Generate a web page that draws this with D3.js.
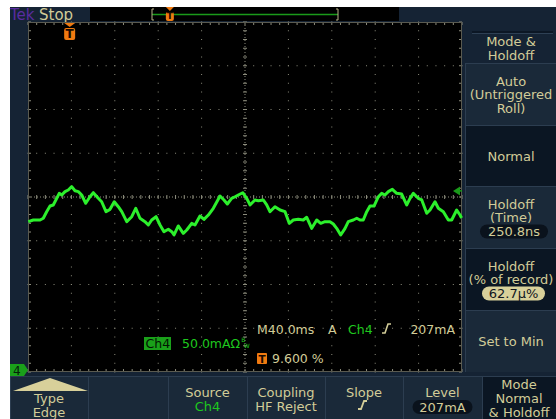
<!DOCTYPE html>
<html>
<head>
<meta charset="utf-8">
<script src="https://cdn.jsdelivr.net/npm/d3@7"></script>
<style>
  html, body { margin: 0; padding: 0; background: #ffffff; }
  svg { display: block; }
  text { font-family: "DejaVu Sans", Verdana, sans-serif; }
</style>
</head>
<body>
<svg id="scope" width="556" height="419"></svg>
<script>
// Acquisition: Ch4 current, 40 ms/div, 50 mA/div, record 0..400 ms
const timeMs = [0.3, 4.9, 11.1, 14.1, 17.2, 20.3, 23.3, 26.5, 28.8, 31.1, 34.1, 37.1, 40.3, 43.3, 46.4, 49.5,
  53.2, 57.1, 60.2, 64.8, 67.9, 71.9, 75.6, 79.5, 83.2, 86.4, 91.0, 95.6, 99.3, 103.2, 107.8, 110.9,
  114.0, 118.0, 121.7, 125.3, 129.3, 132.5, 134.6, 138.5, 143.1, 146.3, 150.9, 153.9, 158.5, 162.2,
  166.2, 170.8, 177.0, 180.6, 183.7, 187.7, 190.8, 193.8, 197.9, 201.6, 204.6, 209.2, 212.3, 216.9,
  220.0, 223.0, 227.6, 232.3, 236.9, 240.8, 244.5, 249.1, 253.7, 256.9, 261.5, 266.1, 269.8, 273.7,
  278.3, 281.4, 284.5, 288.2, 292.2, 295.2, 299.8, 303.0, 306.0, 309.0, 312.2, 315.2, 318.9, 322.9,
  326.0, 329.0, 332.1, 335.8, 339.8, 344.4, 349.0, 352.1, 355.1, 359.7, 362.9, 367.5, 370.5, 375.1,
  378.2, 382.8, 387.4, 390.5, 395.1, 398.2, 399.6];
const currentMa = [171.8, 173.7, 173.7, 175.7, 183.2, 189.7, 190.9, 198.5, 204.2, 202.3, 206.1, 208.0, 211.8, 207.2, 206.1, 202.3,
  192.8, 200.3, 204.9, 198.5, 194.6, 183.2, 185.9, 194.6, 188.9, 183.2, 171.8, 177.5, 187.1, 175.7, 171.8, 168.0,
  173.7, 177.5, 168.0, 160.3, 163.1, 160.3, 156.6, 166.9, 158.5, 162.3, 169.9, 168.0, 178.3, 174.5,
  179.4, 187.1, 201.1, 196.6, 192.0, 198.5, 200.3, 202.3, 204.9, 198.5, 190.9, 196.6, 195.8, 196.6,
  190.9, 183.2, 188.9, 185.1, 183.2, 169.9, 173.7, 174.5, 173.7, 176.8, 164.2, 173.7, 169.9, 171.8,
  171.8, 169.1, 164.2, 156.6, 164.2, 171.8, 173.7, 175.7, 173.7, 173.7, 183.2, 189.7, 189.7, 200.3,
  204.2, 202.3, 206.1, 208.8, 204.2, 203.4, 190.9, 198.5, 204.2, 198.5, 196.6, 181.4, 185.1, 194.6,
  187.1, 183.2, 173.7, 173.7, 185.1, 179.4, 176.0];

// Settings
const timePerDiv = 40, ampPerDiv = 50, hDivs = 10, vDivs = 8;
const triggerPct = 9.6, triggerLevelMa = 207;

// Menu labels
const sideTitle = ["Mode &", "Holdoff"];
const sideButtons = [
  { lines: ["Auto", "(Untriggered", "Roll)"], value: null, sel: false },
  { lines: ["Normal"], value: null, sel: true },
  { lines: ["Holdoff", "(Time)"], value: "250.8ns", sel: false, pill: "dark" },
  { lines: ["Holdoff", "(% of record)"], value: "62.7\u03bc%", sel: true, pill: "light" },
  { lines: ["Set to Min"], value: null, sel: false }
];
const bottomButtons = [
  { lines: ["Type", "Edge"], kind: "type" },
  { lines: [], kind: "blank" },
  { lines: ["Source"], green: "Ch4" },
  { lines: ["Coupling", "HF Reject"] },
  { lines: ["Slope"], kind: "slope" },
  { lines: ["Level"], value: "207mA" },
  { lines: ["Mode", "Normal", "& Holdoff"], sel: true }
];

const C = {
  frame: "#152334", btn: "#1a2939", btnSel: "#0b1623", edge: "#2c3d50",
  text: "#d2cc98", green: "#1ec81e", trace: "#2cf02c", grid: "#8c8c7c",
  orange: "#f07a10", tek: "#5a2ca0"
};

const svg = d3.select("#scope");
const L = 28, R = 462, T = 22, B = 372;

const x = d3.scaleLinear().domain([0, timePerDiv * hDivs]).range([L, R]);
const y = d3.scaleLinear().domain([0, ampPerDiv * vDivs]).range([B, T]);

// Instrument frame
svg.append("rect").attr("x", 10).attr("y", 7).attr("width", 546).attr("height", 412).attr("fill", C.frame);

// Status bar
svg.append("text").attr("x", 10).attr("y", 20).attr("fill", C.tek).attr("font-size", 15).text("Tek");
svg.append("text").attr("x", 39).attr("y", 20).attr("fill", C.text).attr("font-size", 15).text("Stop");

// Record view
const rv = svg.append("g");
rv.append("rect").attr("x", 90).attr("y", 7).attr("width", 309).attr("height", 14).attr("fill", "#000");
const rvx = d3.scaleLinear().domain([0, 100]).range([152, 338]);
rv.append("line").attr("x1", rvx(0)).attr("x2", rvx(100)).attr("y1", 14.5).attr("y2", 14.5)
  .attr("stroke", "#1a9a1a").attr("stroke-width", 1.5);
[[0, 1], [100, -1]].forEach(([p, d]) => {
  rv.append("path").attr("d", `M${rvx(p) + 2 * d},9 h${-2 * d} v11 h${2 * d}`)
    .attr("fill", "none").attr("stroke", "#b8b488").attr("stroke-width", 1);
});
function tMarker(g, cx, top, w, h) {
  g.append("path").attr("d", `M${cx - w / 2},${top} h${w} l${-w / 2},4 z`).attr("fill", C.orange);
  g.append("rect").attr("x", cx - w / 2).attr("y", top + 5).attr("width", w).attr("height", h).attr("rx", 2).attr("fill", C.orange);
  g.append("text").attr("x", cx).attr("y", top + 5 + h - 2.5).attr("text-anchor", "middle")
    .attr("font-size", h).attr("font-weight", "bold").attr("fill", "#1a0a00").text("T");
}
tMarker(rv, rvx(triggerPct), 7, 8, 9);

// Graticule
const grid = svg.append("g");
grid.append("rect").attr("x", L).attr("y", T).attr("width", R - L).attr("height", B - T).attr("fill", "#000");
const minorT = d3.range(0, timePerDiv * hDivs + 0.01, timePerDiv / 5);
const minorA = d3.range(0, ampPerDiv * vDivs + 0.01, ampPerDiv / 5);
// dotted division lines
d3.range(1, hDivs).forEach(i => {
  const t = i * timePerDiv;
  if (i === hDivs / 2) return;
  minorA.forEach(a => grid.append("rect").attr("x", x(t) - 0.5).attr("y", y(a) - 0.5).attr("width", 1).attr("height", 1).attr("fill", C.grid));
});
d3.range(1, vDivs).forEach(j => {
  const a = j * ampPerDiv;
  if (j === vDivs / 2) return;
  minorT.forEach(t => grid.append("rect").attr("x", x(t) - 0.5).attr("y", y(a) - 0.5).attr("width", 1).attr("height", 1).attr("fill", C.grid));
});
// center cross with ticks
const cx0 = x(timePerDiv * hDivs / 2), cy0 = y(ampPerDiv * vDivs / 2);
grid.append("line").attr("x1", L).attr("x2", R).attr("y1", cy0).attr("y2", cy0)
  .attr("stroke", C.grid).attr("stroke-dasharray", "1,2").attr("stroke-width", 1);
grid.append("line").attr("y1", T).attr("y2", B).attr("x1", cx0).attr("x2", cx0)
  .attr("stroke", C.grid).attr("stroke-dasharray", "1,2").attr("stroke-width", 1);
minorT.forEach(t => grid.append("line").attr("x1", x(t)).attr("x2", x(t)).attr("y1", cy0 - 2).attr("y2", cy0 + 2).attr("stroke", C.grid));
minorA.forEach(a => grid.append("line").attr("y1", y(a)).attr("y2", y(a)).attr("x1", cx0 - 2).attr("x2", cx0 + 2).attr("stroke", C.grid));
// border ticks
minorT.forEach(t => {
  grid.append("line").attr("x1", x(t)).attr("x2", x(t)).attr("y1", T).attr("y2", T + 3).attr("stroke", C.grid);
  grid.append("line").attr("x1", x(t)).attr("x2", x(t)).attr("y1", B - 3).attr("y2", B).attr("stroke", C.grid);
});
minorA.forEach(a => {
  grid.append("line").attr("y1", y(a)).attr("y2", y(a)).attr("x1", L).attr("x2", L + 3).attr("stroke", C.grid);
  grid.append("line").attr("y1", y(a)).attr("y2", y(a)).attr("x1", R - 3).attr("x2", R).attr("stroke", C.grid);
});
grid.append("rect").attr("x", L + 0.5).attr("y", T + 0.5).attr("width", R - L - 1).attr("height", B - T - 1)
  .attr("fill", "none").attr("stroke", "#5a5a50").attr("stroke-width", 1);

// Waveform
const pts = timeMs.map((t, i) => [t, currentMa[i]]);
const line = d3.line().x(d => x(d[0])).y(d => y(d[1]));
svg.append("path").datum(pts).attr("d", line).attr("fill", "none")
  .attr("stroke", C.trace).attr("stroke-width", 3).attr("stroke-linejoin", "round");

// Trigger position marker
tMarker(svg, x(triggerPct / 100 * timePerDiv * hDivs), T + 1, 11, 12);

// Trigger level marker
const ty = y(triggerLevelMa);
svg.append("path").attr("d", `M${R - 9},${ty} l7,-4.5 v9 z`).attr("fill", "#1a9a1a");
svg.append("line").attr("x1", R - 3).attr("x2", R).attr("y1", ty).attr("y2", ty).attr("stroke", "#1a9a1a").attr("stroke-width", 1.5);

// Channel ground marker
const gy = y(0) - 2;
svg.append("path").attr("d", `M10,${gy - 6} h14 l4,6 l-4,6 h-14 z`).attr("fill", "#1aa01a");
svg.append("text").attr("x", 13).attr("y", gy + 5).attr("font-size", 12).attr("fill", "#06200a").text("4");

// Readouts
const ro = svg.append("g").attr("font-size", 12.5);
ro.append("text").attr("x", 257).attr("y", 334).attr("fill", C.text).text("M40.0ms");
ro.append("text").attr("x", 328).attr("y", 334).attr("fill", C.text).text("A");
ro.append("text").attr("x", 348).attr("y", 334).attr("fill", C.green).text("Ch4");
ro.append("path").attr("d", "M382,333 h3 l3,-9 h3").attr("fill", "none").attr("stroke", C.text).attr("stroke-width", 1.6);
ro.append("text").attr("x", 455).attr("y", 334).attr("text-anchor", "end").attr("fill", C.text).text("207mA");
ro.append("rect").attr("x", 144).attr("y", 337).attr("width", 27).attr("height", 13).attr("fill", "#1aa01a");
ro.append("text").attr("x", 145.5).attr("y", 348).attr("fill", "#021402").text("Ch4");
const scaleTxt = ro.append("text").attr("x", 182).attr("y", 348).attr("fill", C.green).text("50.0mA\u03a9");
const bwX = 182 + scaleTxt.node().getComputedTextLength() + 1;
ro.append("text").attr("x", bwX).attr("y", 342).attr("font-size", 6).attr("fill", C.green).text("B");
ro.append("text").attr("x", bwX + 2.5).attr("y", 348).attr("font-size", 6).attr("fill", C.green).text("W");
ro.append("rect").attr("x", 257).attr("y", 353).attr("width", 10).attr("height", 11).attr("rx", 1).attr("fill", C.orange);
ro.append("text").attr("x", 262).attr("y", 362.5).attr("text-anchor", "middle").attr("font-size", 10.5).attr("font-weight", "bold").attr("fill", "#1a0a00").text("T");
ro.append("text").attr("x", 272).attr("y", 363).attr("fill", C.text).text("9.600 %");

// Side menu
const side = svg.append("g").attr("font-size", 13).attr("fill", C.text).attr("text-anchor", "middle");
const sx0 = 465, sx1 = 556, scx = 511;
side.append("line").attr("x1", 472).attr("x2", 553).attr("y1", 32).attr("y2", 32).attr("stroke", "#0a1420").attr("stroke-width", 1.5);
side.append("line").attr("x1", 472).attr("x2", 553).attr("y1", 33.5).attr("y2", 33.5).attr("stroke", "#2e4054").attr("stroke-width", 1);
sideTitle.forEach((s, i) => side.append("text").attr("x", scx).attr("y", 46 + i * 13.5).text(s));
const sideTops = [63, 125, 186, 248, 310, 372];
sideButtons.forEach((b, i) => {
  const y0 = sideTops[i], y1 = sideTops[i + 1];
  side.append("rect").attr("x", sx0).attr("y", y0).attr("width", sx1 - sx0).attr("height", y1 - y0)
    .attr("fill", b.sel ? C.btnSel : C.btn);
  side.append("line").attr("x1", sx0).attr("x2", sx1).attr("y1", y0 + 0.5).attr("y2", y0 + 0.5).attr("stroke", C.edge);
  side.append("line").attr("x1", sx0 + 0.5).attr("x2", sx0 + 0.5).attr("y1", y0).attr("y2", y1).attr("stroke", C.edge);
  const n = b.lines.length + (b.value ? 1 : 0);
  const mid = (y0 + y1) / 2;
  const startY = mid - (n - 1) * 13.5 / 2 + 5;
  b.lines.forEach((s, k) => side.append("text").attr("x", scx).attr("y", startY + k * 13.5).text(s));
  if (b.value) {
    const vy = startY + b.lines.length * 13.5;
    side.append("rect").attr("x", b.pill === "light" ? 482 : 480).attr("y", vy - 11).attr("width", b.pill === "light" ? 63 : 68)
      .attr("height", 14).attr("rx", 7).attr("fill", b.pill === "light" ? "#d8d09a" : "#0a121c");
    side.append("text").attr("x", b.pill === "light" ? 513.5 : 514).attr("y", vy).attr("fill", b.pill === "light" ? "#10161e" : C.text).text(b.value);
  }
});

// Bottom menu
const bot = svg.append("g").attr("font-size", 13).attr("fill", C.text).attr("text-anchor", "middle");
const bx = [10, 88, 168, 247, 325, 403, 482, 556];
bottomButtons.forEach((b, i) => {
  const x0 = bx[i], x1 = bx[i + 1], mx = (x0 + x1) / 2;
  bot.append("rect").attr("x", x0).attr("y", 376).attr("width", x1 - x0).attr("height", 43).attr("fill", b.sel ? C.btnSel : C.btn);
  bot.append("line").attr("x1", x0).attr("x2", x1).attr("y1", 376.5).attr("y2", 376.5).attr("stroke", C.edge);
  bot.append("line").attr("x1", x0 + 0.5).attr("x2", x0 + 0.5).attr("y1", 376).attr("y2", 419).attr("stroke", C.edge);
  if (b.kind === "type") {
    bot.append("path").attr("d", `M13,391 L50,378 L88,391 z`).attr("fill", "#d8d09a");
    bot.append("text").attr("x", mx).attr("y", 403).text(b.lines[0]);
    bot.append("text").attr("x", mx).attr("y", 417).text(b.lines[1]);
    return;
  }
  if (b.lines.length === 3) {
    b.lines.forEach((s, k) => bot.append("text").attr("x", mx).attr("y", 389 + k * 14).text(s));
    return;
  }
  b.lines.forEach((s, k) => bot.append("text").attr("x", mx).attr("y", 397 + k * 13.5).text(s));
  if (b.green) bot.append("text").attr("x", mx).attr("y", 410.5).attr("fill", C.green).text(b.green);
  if (b.kind === "slope") bot.append("path").attr("d", `M${mx - 6},409 h3 l3,-8 h3`).attr("fill", "none").attr("stroke", C.text).attr("stroke-width", 1.8);
  if (b.value) {
    bot.append("rect").attr("x", mx - 30).attr("y", 400).attr("width", 60).attr("height", 14).attr("rx", 7).attr("fill", "#0a121c");
    bot.append("text").attr("x", mx).attr("y", 411.5).text(b.value);
  }
});
</script>
</body>
</html>
